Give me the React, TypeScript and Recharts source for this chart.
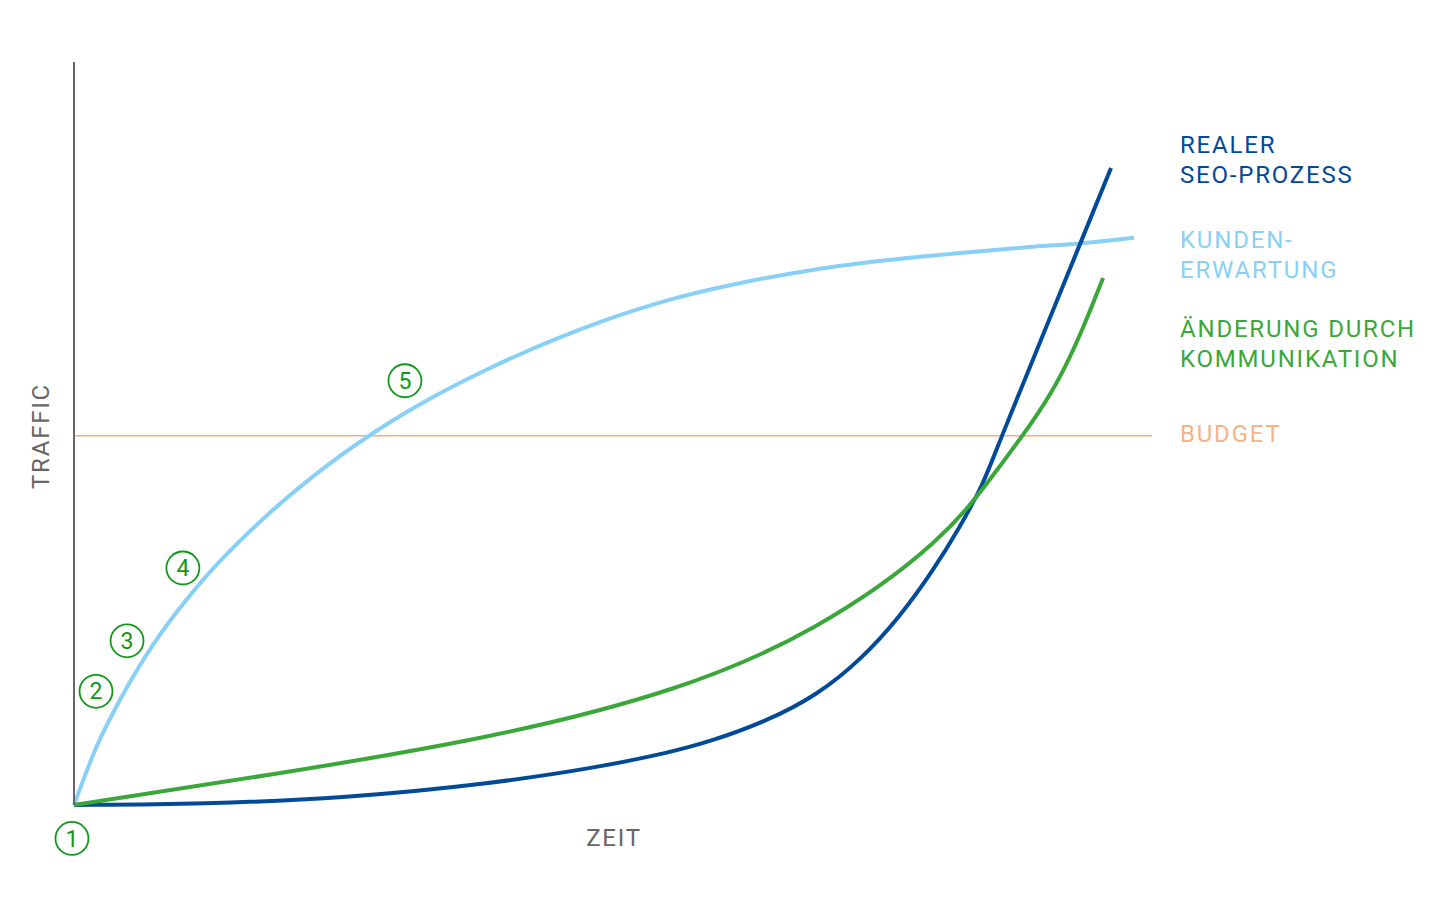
import React from 'react'
import { LineChart, Line, XAxis, YAxis, ReferenceLine, ReferenceDot } from 'recharts'

// time (0–100) vs traffic (0–100)
const expectation = [
  { t: 0, traffic: 0 },
  { t: 2.04, traffic: 7.67 },
  { t: 4.36, traffic: 14.4 },
  { t: 7.33, traffic: 21.55 },
  { t: 11.97, traffic: 30.3 },
  { t: 17.25, traffic: 38.12 },
  { t: 21.89, traffic: 43.9 },
  { t: 27.37, traffic: 49.7 },
  { t: 31.82, traffic: 53.7 },
  { t: 38.5, traffic: 58.75 },
  { t: 45.08, traffic: 62.95 },
  { t: 48.79, traffic: 65.0 },
  { t: 55.38, traffic: 68.05 },
  { t: 62.06, traffic: 70.32 },
  { t: 68.65, traffic: 72.05 },
  { t: 75.32, traffic: 73.31 },
  { t: 81.91, traffic: 74.26 },
  { t: 88.59, traffic: 75.09 },
  { t: 93.23, traffic: 75.58 },
  { t: 98.33, traffic: 76.36 },
]

const communication = [
  { t: 0, traffic: 0 },
  { t: 18.55, traffic: 4.17 },
  { t: 38.5, traffic: 9.29 },
  { t: 55.38, traffic: 15.61 },
  { t: 68.65, traffic: 23.96 },
  { t: 79.68, traffic: 35.26 },
  { t: 85.9, traffic: 45.63 },
  { t: 91.19, traffic: 56.93 },
  { t: 95.46, traffic: 70.93 },
]

const seoProcess = [
  { t: 0, traffic: 0 },
  { t: 11.97, traffic: 0.13 },
  { t: 25.23, traffic: 0.94 },
  { t: 38.5, traffic: 2.83 },
  { t: 48.79, traffic: 5.11 },
  { t: 55.38, traffic: 7.12 },
  { t: 59.0, traffic: 8.53 },
  { t: 64.29, traffic: 11.29 },
  { t: 68.92, traffic: 14.79 },
  { t: 72.91, traffic: 19.42 },
  { t: 76.62, traffic: 25.34 },
  { t: 79.68, traffic: 31.52 },
  { t: 82.19, traffic: 37.44 },
  { t: 84.32, traffic: 43.1 },
  { t: 85.71, traffic: 48.37 },
  { t: 86.92, traffic: 52.68 },
  { t: 90.17, traffic: 64.3 },
  { t: 93.23, traffic: 75.17 },
  { t: 96.2, traffic: 85.73 },
]

const budget = 49.7

// circled step numbers
const steps = [
  { label: '1', t: -0.19, traffic: -4.5 },
  { label: '2', t: 2.04, traffic: 15.3 },
  { label: '3', t: 4.92, traffic: 22.1 },
  { label: '4', t: 10.1, traffic: 31.9 },
  { label: '5', t: 30.7, traffic: 57.1 },
]

const legendItems = [
  { lines: ['REALER', 'SEO-PROZESS'], color: '#004a98', top: 130 },
  { lines: ['KUNDEN-', 'ERWARTUNG'], color: '#88d0f6', top: 225 },
  { lines: ['ÄNDERUNG DURCH', 'KOMMUNIKATION'], color: '#3ba73a', top: 314 },
]

const font = 'Roboto, "Noto Sans", sans-serif'

export default function App() {
  return (
    <div style={{ position: 'absolute', left: 0, top: 0, width: 1440, height: 900, fontFamily: font, background: '#fff' }}>
      <LineChart width={1440} height={900} margin={{ top: 62, right: 288, bottom: 95, left: 73 }}>
        <XAxis
          type="number"
          dataKey="t"
          domain={[0, 100]}
          height={0}
          tick={false}
          tickLine={false}
          axisLine={{ stroke: '#666', strokeWidth: 2 }}
        />
        <YAxis
          type="number"
          dataKey="traffic"
          domain={[0, 100]}
          width={1}
          tick={false}
          tickLine={false}
          axisLine={{ stroke: '#666', strokeWidth: 2 }}
        />
        <ReferenceLine
          y={budget}
          stroke="#f5ae7e"
          strokeWidth={1.5}
          label={{ value: 'BUDGET', position: 'right', offset: 28, dy: -2, fill: '#f5b387', fontSize: 24, fontFamily: font, letterSpacing: 1.8 }}
        />
        <Line data={expectation} dataKey="traffic" type="monotone" stroke="#88d0f6" strokeWidth={4} dot={false} isAnimationActive={false} />
        <Line data={seoProcess} dataKey="traffic" type="basis" stroke="#004a98" strokeWidth={4} dot={false} isAnimationActive={false} />
        <Line data={communication} dataKey="traffic" type="natural" stroke="#3ba73a" strokeWidth={4} dot={false} isAnimationActive={false} />
        {steps.map((s) => (
          <ReferenceDot
            key={s.label}
            x={s.t}
            y={s.traffic}
            r={16.5}
            fill="#fff"
            fillOpacity={0}
            stroke="#11981a"
            strokeWidth={1.8}
            ifOverflow="visible"
            label={{ value: s.label, position: 'center', fill: '#11981a', fontSize: 23, fontFamily: font }}
          />
        ))}
      </LineChart>

      {legendItems.map((item) => (
        <div
          key={item.lines[0]}
          style={{
            position: 'absolute',
            left: 1180,
            top: item.top,
            color: item.color,
            fontSize: 24,
            lineHeight: '30px',
            letterSpacing: 1.8,
            whiteSpace: 'nowrap',
          }}
        >
          {item.lines.map((l) => (
            <div key={l}>{l}</div>
          ))}
        </div>
      ))}

      <div
        style={{
          position: 'absolute',
          left: 614,
          top: 838,
          transform: 'translate(-50%, -50%)',
          color: '#666',
          fontSize: 24,
          letterSpacing: 1.8,
          lineHeight: '30px',
        }}
      >
        ZEIT
      </div>
      <div
        style={{
          position: 'absolute',
          left: 41,
          top: 436,
          transform: 'translate(-50%, -50%) rotate(-90deg)',
          color: '#666',
          fontSize: 24,
          letterSpacing: 1.8,
          lineHeight: '30px',
          whiteSpace: 'nowrap',
        }}
      >
        TRAFFIC
      </div>
    </div>
  )
}
